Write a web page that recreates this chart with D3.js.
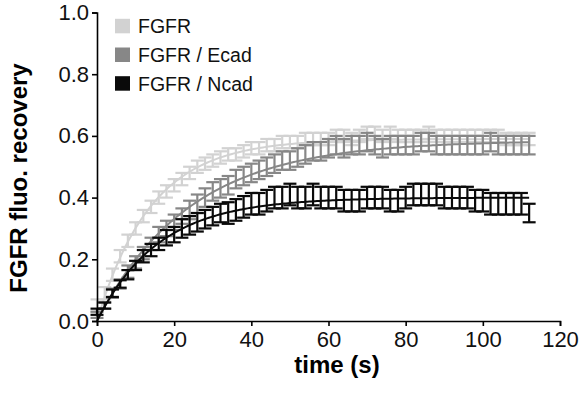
<!DOCTYPE html>
<html lang="en">
<head>
<meta charset="UTF-8">
<title>FGFR recovery</title>
<style>
  body { margin: 0; background: #fff; font-family: "Liberation Sans", Arial, sans-serif; }
  .axis path, .axis line { stroke: #000; stroke-width: 1.6px; }
  .axis text { font-size: 22px; fill: #111; font-family: "Liberation Sans", Arial, sans-serif; }
  .title { font-size: 24px; font-weight: bold; fill: #000; }
  .legend text { font-size: 19.5px; fill: #111; }
</style>
</head>
<body>
<svg width="583" height="394"></svg>
<script src="https://d3js.org/d3.v7.min.js"></script>
<script>
// time points (s)
const times = d3.range(0, 113, 2);

const seriesNames = ["FGFR", "FGFR / Ecad", "FGFR / Ncad"];
const seriesColors = ["#d2d2d2", "#878787", "#0a0a0a"];

// mean recovery
const meanFGFR = [0.05,0.09,0.15,0.21,0.26,0.30,0.34,0.37,0.40,0.42,0.44,0.46,0.48,0.50,0.51,0.52,0.53,0.54,0.54,0.55,
  0.56,0.56,0.57,0.57,0.58,0.58,0.58,0.59,0.59,0.59,0.59,0.60,0.60,0.59,0.60,0.61,0.61,0.60,0.61,0.60,
  0.60,0.60,0.60,0.61,0.60,0.60,0.60,0.60,0.60,0.60,0.60,0.60,0.60,0.59,0.59,0.59,0.59];
const meanEcad = [0.02,0.05,0.09,0.12,0.16,0.19,0.22,0.25,0.28,0.30,0.32,0.34,0.36,0.38,0.40,0.42,0.43,0.44,0.46,0.47,
  0.48,0.49,0.50,0.51,0.52,0.52,0.53,0.54,0.55,0.55,0.56,0.57,0.56,0.57,0.57,0.58,0.57,0.56,0.57,0.57,
  0.57,0.57,0.58,0.58,0.57,0.57,0.57,0.57,0.57,0.57,0.57,0.58,0.57,0.57,0.57,0.57,0.57];
const meanNcad = [0.03,0.05,0.09,0.12,0.15,0.18,0.21,0.23,0.25,0.27,0.28,0.30,0.31,0.32,0.33,0.34,0.35,0.35,0.36,0.37,
  0.38,0.38,0.39,0.40,0.40,0.41,0.40,0.40,0.41,0.40,0.40,0.40,0.39,0.39,0.39,0.40,0.40,0.40,0.39,0.39,
  0.40,0.41,0.41,0.41,0.41,0.40,0.40,0.40,0.40,0.39,0.39,0.38,0.38,0.38,0.38,0.38,0.35];

// s.e.m.
const errFGFR = [0.02,0.02,0.02,0.02,0.02,0.02,0.02,0.02,0.02,0.02,0.02,0.02,0.02,0.02,0.02,0.02,0.02,0.02,0.02,0.02,
  0.02,0.02,0.02,0.02,0.02,0.02,0.02,0.02,0.02,0.02,0.02,0.02,0.02,0.02,0.02,0.02,0.02,0.02,0.02,0.02,
  0.02,0.02,0.02,0.02,0.02,0.02,0.02,0.02,0.02,0.02,0.02,0.02,0.02,0.02,0.02,0.02,0.02];
const errEcad = [0.01,0.01,0.015,0.015,0.02,0.02,0.02,0.02,0.025,0.025,0.025,0.025,0.03,0.03,0.03,0.03,0.03,0.03,0.03,0.03,
  0.03,0.03,0.03,0.03,0.03,0.03,0.03,0.03,0.03,0.03,0.03,0.03,0.03,0.03,0.03,0.03,0.03,0.03,0.03,0.03,
  0.03,0.03,0.03,0.03,0.03,0.03,0.03,0.03,0.03,0.03,0.03,0.03,0.03,0.03,0.03,0.03,0.03];
const errNcad = [0.01,0.01,0.012,0.012,0.015,0.015,0.02,0.02,0.02,0.025,0.025,0.03,0.03,0.03,0.03,0.03,0.03,0.035,0.035,0.035,
  0.035,0.035,0.035,0.035,0.035,0.035,0.035,0.035,0.035,0.035,0.035,0.035,0.035,0.035,0.035,0.035,0.035,0.035,0.035,0.035,
  0.035,0.035,0.035,0.035,0.035,0.035,0.035,0.035,0.035,0.035,0.035,0.035,0.035,0.035,0.035,0.035,0.03];

// one-phase exponential fit: plateau * (1 - exp(-t / tau))
const fitPlateau = [0.59, 0.585, 0.40];
const fitTau = [14, 24, 16];

const xTicks = [0, 20, 40, 60, 80, 100, 120];
const yTicks = [0.0, 0.2, 0.4, 0.6, 0.8, 1.0];

const means = [meanFGFR, meanEcad, meanNcad];
const errs = [errFGFR, errEcad, errNcad];

const svg = d3.select("svg");
const x = d3.scaleLinear().domain([0, 120]).range([97, 560]);
const y = d3.scaleLinear().domain([0, 1]).range([321, 12.5]);

// series: error bars then fit curve
const capW = 13;
means.forEach((m, s) => {
  const g = svg.append("g").attr("stroke", seriesColors[s]).attr("stroke-width", 2.2).attr("fill", "none");
  times.forEach((t, i) => {
    const lo = y(m[i] - errs[s][i]), hi = y(m[i] + errs[s][i]), cx = x(t);
    g.append("line").attr("x1", cx).attr("x2", cx).attr("y1", lo).attr("y2", hi);
    g.append("line").attr("x1", cx - capW / 2).attr("x2", cx + capW / 2).attr("y1", lo).attr("y2", lo);
    g.append("line").attr("x1", cx - capW / 2).attr("x2", cx + capW / 2).attr("y1", hi).attr("y2", hi);
  });
  const fitT = d3.range(0, 112.5, 0.5);
  g.append("path")
    .datum(fitT)
    .attr("stroke-width", 2)
    .attr("d", d3.line()
      .x(t => x(t))
      .y(t => y(fitPlateau[s] * (1 - Math.exp(-t / fitTau[s])))));
});

// axes
svg.append("g").attr("class", "axis")
  .attr("transform", "translate(0,321)")
  .call(d3.axisBottom(x).tickValues(xTicks).tickSize(5).tickSizeOuter(5).tickPadding(4))
  .call(g => g.selectAll("text").attr("dy", "0.78em"));

svg.append("g").attr("class", "axis")
  .attr("transform", "translate(97,0)")
  .call(d3.axisLeft(y).tickValues(yTicks).tickFormat(d3.format(".1f")).tickSize(5).tickSizeOuter(5).tickPadding(3));

// titles
svg.append("text").attr("class", "title")
  .attr("x", 337).attr("y", 373).attr("text-anchor", "middle").text("time (s)");
svg.append("text").attr("class", "title")
  .attr("transform", "translate(27,178) rotate(-90)")
  .attr("text-anchor", "middle").text("FGFR fluo. recovery");

// legend
const legend = svg.append("g").attr("class", "legend");
seriesNames.forEach((name, i) => {
  const base = 33.3 + i * 28.7;
  legend.append("rect").attr("x", 115).attr("y", base - 14.5).attr("width", 15).attr("height", 14.5)
    .attr("fill", seriesColors[i]);
  legend.append("text").attr("x", 138).attr("y", base).text(name);
});
</script>
</body>
</html>
